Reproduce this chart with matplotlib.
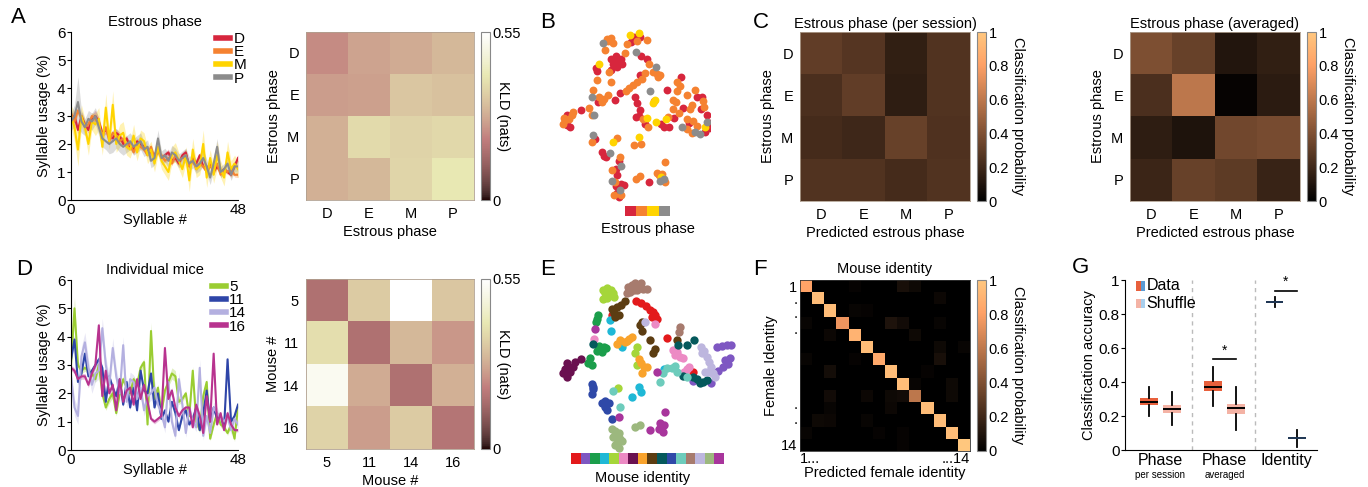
import numpy as np
import matplotlib
matplotlib.use('Agg')
import matplotlib.pyplot as plt
from matplotlib.colors import ListedColormap
from matplotlib.patches import Rectangle

plt.rcParams['font.family'] = ['Liberation Sans', 'DejaVu Sans']
plt.rcParams['font.size'] = 10

W, H = 1368, 487

# ================= DATA =================
syllables = np.arange(49)
phase_labels = ['D', 'E', 'M', 'P']
phase_colors = ['#d7263d', '#f58231', '#ffd400', '#8c8c8c']

usage_D = [2.9, 3.0, 2.5, 3.0, 2.7, 2.5, 2.9, 3.0, 2.8, 2.4, 2.5, 2.3, 2.2, 2.4, 2.3, 2.0, 2.2, 1.9, 1.8, 2.1,
           2.0, 1.9, 1.8, 1.7, 1.6, 1.8, 1.5, 1.6, 1.7, 1.4, 1.5, 1.3, 1.6, 1.7, 1.2, 1.5, 1.3, 1.6, 1.2, 1.1,
           1.3, 1.0, 1.2, 1.0, 1.1, 1.0, 0.9, 1.2, 1.5]
usage_E = [3.1, 2.8, 3.2, 2.9, 2.6, 2.7, 3.0, 2.9, 2.7, 2.3, 2.6, 2.1, 2.4, 2.3, 2.1, 2.2, 1.9, 2.0, 1.7, 2.0,
           1.9, 1.8, 1.6, 1.9, 1.5, 1.7, 1.6, 1.4, 1.5, 1.3, 1.6, 1.4, 1.5, 1.5, 1.2, 1.4, 1.1, 1.3, 1.2, 1.0,
           1.2, 1.1, 1.3, 0.9, 1.1, 1.0, 1.1, 0.9, 0.9]
usage_M = [3.0, 2.6, 1.8, 3.0, 2.6, 2.0, 2.8, 2.7, 2.9, 1.9, 3.3, 2.1, 3.4, 2.0, 2.3, 2.4, 1.9, 1.8, 2.3, 1.7,
           2.2, 2.1, 1.6, 1.8, 1.3, 1.9, 1.4, 1.2, 1.0, 1.6, 1.7, 1.4, 1.1, 1.6, 0.7, 1.8, 1.1, 1.2, 2.0, 0.8,
           1.5, 0.9, 1.6, 1.1, 0.8, 1.7, 1.1, 1.3, 1.1]
usage_P = [2.8, 3.0, 3.5, 2.8, 2.6, 2.9, 2.8, 3.0, 2.6, 2.2, 2.1, 2.0, 2.1, 2.2, 2.0, 1.9, 2.0, 2.1, 1.9, 2.0,
           2.1, 1.8, 1.9, 1.4, 1.5, 2.2, 1.5, 1.6, 1.4, 1.7, 1.6, 1.4, 1.5, 1.6, 1.3, 1.4, 1.2, 1.3, 1.5, 1.2,
           0.8, 1.3, 1.9, 1.0, 1.1, 1.3, 0.9, 1.2, 1.2]
sem_D = [0.15, 0.2, 0.15, 0.15, 0.12, 0.12, 0.15, 0.2, 0.15, 0.12, 0.15, 0.12, 0.12, 0.15, 0.12, 0.12, 0.12, 0.1,
         0.1, 0.12, 0.1, 0.1, 0.1, 0.12, 0.1, 0.12, 0.1, 0.1, 0.12, 0.1, 0.1, 0.1, 0.1, 0.12, 0.1, 0.1, 0.1, 0.1,
         0.1, 0.1, 0.1, 0.08, 0.1, 0.08, 0.08, 0.08, 0.08, 0.1, 0.12]
sem_E = [0.12, 0.12, 0.15, 0.12, 0.1, 0.1, 0.12, 0.12, 0.12, 0.1, 0.12, 0.1, 0.1, 0.1, 0.1, 0.1, 0.1, 0.1, 0.08,
         0.1, 0.1, 0.08, 0.08, 0.1, 0.08, 0.1, 0.08, 0.08, 0.08, 0.08, 0.1, 0.08, 0.08, 0.08, 0.08, 0.08, 0.08,
         0.08, 0.08, 0.08, 0.08, 0.08, 0.08, 0.08, 0.08, 0.08, 0.08, 0.08, 0.1]
sem_M = [0.4, 0.5, 0.6, 0.4, 0.3, 0.4, 0.3, 0.4, 0.4, 0.3, 0.5, 0.3, 0.5, 0.3, 0.4, 0.4, 0.3, 0.3, 0.4, 0.3,
         0.3, 0.3, 0.3, 0.3, 0.3, 0.3, 0.3, 0.3, 0.3, 0.3, 0.35, 0.3, 0.3, 0.3, 0.4, 0.4, 0.3, 0.3, 0.5, 0.35,
         0.3, 0.3, 0.5, 0.3, 0.3, 0.4, 0.3, 0.3, 0.3]
sem_P = [0.3, 0.4, 0.9, 0.4, 0.3, 0.3, 0.3, 0.3, 0.3, 0.3, 0.3, 0.35, 0.4, 0.35, 0.3, 0.3, 0.3, 0.3, 0.3, 0.3,
         0.3, 0.25, 0.25, 0.25, 0.25, 0.3, 0.25, 0.25, 0.25, 0.25, 0.25, 0.25, 0.25, 0.25, 0.25, 0.25, 0.25,
         0.25, 0.3, 0.25, 0.25, 0.25, 0.3, 0.2, 0.2, 0.2, 0.2, 0.2, 0.2]

mouse_labels = ['5', '11', '14', '16']
mouse_colors = ['#9acd32', '#2e45a8', '#b4b0e0', '#b8338f']
usage_m5 = [3.0, 5.0, 3.0, 2.8, 2.9, 2.8, 2.7, 2.5, 3.0, 2.0, 1.5, 1.8, 2.0, 1.3, 2.0, 2.5, 2.2, 2.0, 2.5, 2.3,
            2.9, 3.1, 0.9, 4.2, 1.8, 2.2, 1.3, 2.1, 2.4, 2.7, 2.6, 1.7, 1.8, 2.0, 1.2, 2.8, 1.0, 0.7, 1.9, 2.4,
            0.4, 0.9, 1.3, 0.9, 0.8, 0.6, 0.9, 0.4, 1.5]
usage_m11 = [3.2, 3.9, 2.4, 2.7, 3.4, 2.6, 2.8, 3.0, 3.2, 2.9, 1.7, 2.6, 2.2, 1.9, 2.5, 1.6, 2.4, 1.5, 2.2, 1.4,
             2.8, 2.1, 2.0, 2.7, 1.5, 2.0, 1.1, 1.4, 1.0, 1.7, 1.3, 0.7, 1.2, 1.4, 0.9, 1.1, 1.5, 0.7, 1.3, 2.1,
             1.0, 1.5, 1.1, 1.2, 0.8, 3.2, 1.0, 1.2, 1.6]
usage_m14 = [2.6, 1.5, 1.2, 3.3, 3.8, 2.9, 2.3, 2.7, 2.8, 4.3, 3.0, 2.3, 3.6, 2.6, 2.0, 3.7, 1.7, 2.5, 2.4, 1.8,
             2.2, 1.4, 1.9, 2.0, 2.2, 1.6, 1.3, 0.8, 2.4, 1.0, 0.5, 2.5, 1.6, 0.6, 1.5, 1.0, 0.8, 2.9, 0.5, 1.2,
             0.6, 1.5, 1.3, 1.1, 1.0, 1.2, 0.7, 1.1, 0.9]
usage_m16 = [2.9, 2.8, 2.5, 2.6, 2.6, 2.3, 2.7, 3.0, 4.4, 1.9, 2.8, 2.0, 2.3, 1.4, 2.5, 1.7, 2.1, 2.2, 1.6, 2.5,
             1.8, 2.3, 1.7, 1.1, 1.0, 1.1, 1.2, 3.6, 1.8, 2.1, 1.5, 1.2, 1.4, 1.5, 1.5, 0.8, 1.6, 1.2, 0.6, 1.9,
             1.0, 3.4, 0.9, 1.3, 0.7, 1.3, 0.9, 0.7, 0.7]
sem_m5 = [0.15, 0.4, 0.15, 0.12, 0.12, 0.12, 0.12, 0.12, 0.12, 0.1, 0.1, 0.15, 0.15, 0.1, 0.1, 0.12, 0.1, 0.1,
          0.12, 0.1, 0.15, 0.12, 0.1, 0.3, 0.1, 0.12, 0.1, 0.12, 0.15, 0.2, 0.2, 0.1, 0.1, 0.1, 0.1, 0.15, 0.1,
          0.1, 0.1, 0.12, 0.08, 0.1, 0.1, 0.1, 0.1, 0.08, 0.1, 0.1, 0.2]
sem_m11 = [0.12, 0.15, 0.1, 0.1, 0.12, 0.1, 0.1, 0.1, 0.12, 0.1, 0.08, 0.1, 0.1, 0.08, 0.1, 0.08, 0.1, 0.08,
           0.1, 0.08, 0.1, 0.1, 0.08, 0.1, 0.08, 0.08, 0.08, 0.08, 0.06, 0.08, 0.06, 0.06, 0.06, 0.08, 0.06,
           0.06, 0.08, 0.06, 0.06, 0.1, 0.06, 0.08, 0.06, 0.06, 0.06, 0.12, 0.06, 0.06, 0.08]
sem_m14 = [0.3, 0.3, 0.3, 0.35, 0.35, 0.3, 0.3, 0.3, 0.3, 0.35, 0.3, 0.3, 0.35, 0.3, 0.3, 0.3, 0.25, 0.25, 0.25,
           0.25, 0.25, 0.2, 0.25, 0.25, 0.25, 0.2, 0.2, 0.2, 0.25, 0.2, 0.15, 0.25, 0.2, 0.15, 0.2, 0.15, 0.15,
           0.3, 0.15, 0.2, 0.15, 0.2, 0.2, 0.15, 0.15, 0.2, 0.15, 0.15, 0.15]
sem_m16 = [0.1, 0.1, 0.1, 0.1, 0.1, 0.1, 0.1, 0.1, 0.15, 0.1, 0.1, 0.1, 0.1, 0.08, 0.1, 0.08, 0.1, 0.1, 0.08,
           0.1, 0.08, 0.1, 0.08, 0.08, 0.08, 0.08, 0.08, 0.12, 0.1, 0.1, 0.08, 0.08, 0.08, 0.08, 0.08, 0.06,
           0.08, 0.08, 0.06, 0.1, 0.06, 0.12, 0.06, 0.08, 0.06, 0.08, 0.06, 0.06, 0.06]

# KL divergence matrices (nats)
kld_phase = [[0.22, 0.26, 0.275, 0.30],
             [0.25, 0.255, 0.33, 0.32],
             [0.285, 0.375, 0.36, 0.37],
             [0.285, 0.30, 0.365, 0.41]]
kld_mouse = [[0.165, 0.34, 0.55, 0.33],
             [0.385, 0.165, 0.30, 0.24],
             [0.52, 0.275, 0.165, 0.285],
             [0.36, 0.25, 0.34, 0.175]]

# classification confusion matrices
conf_session = [[0.31, 0.27, 0.16, 0.26],
                [0.24, 0.31, 0.15, 0.26],
                [0.22, 0.20, 0.33, 0.25],
                [0.26, 0.26, 0.22, 0.26]]
conf_avg = [[0.40, 0.33, 0.11, 0.16],
            [0.24, 0.60, 0.02, 0.14],
            [0.15, 0.10, 0.36, 0.38],
            [0.19, 0.33, 0.30, 0.18]]
conf_identity = [
    [0.82, 0, 0, 0, 0.02, 0, 0, 0, 0.08, 0.05, 0, 0, 0, 0],
    [0, 0.95, 0, 0, 0, 0, 0, 0, 0, 0, 0, 0.04, 0, 0],
    [0, 0, 0.95, 0, 0.03, 0.02, 0, 0, 0, 0, 0, 0, 0, 0],
    [0.03, 0, 0, 0.75, 0, 0, 0, 0.10, 0.06, 0, 0, 0.03, 0, 0],
    [0, 0, 0.04, 0, 0.90, 0, 0, 0, 0, 0.05, 0, 0, 0, 0],
    [0, 0, 0, 0, 0, 0.95, 0, 0, 0, 0, 0, 0.05, 0, 0.03],
    [0.03, 0, 0, 0, 0.02, 0, 0.85, 0, 0, 0, 0, 0.08, 0, 0],
    [0, 0, 0.07, 0, 0, 0, 0, 0.95, 0, 0, 0.02, 0, 0, 0],
    [0, 0, 0, 0, 0, 0, 0, 0, 0.95, 0.03, 0, 0, 0.05, 0],
    [0, 0, 0.06, 0, 0, 0.04, 0, 0.05, 0.06, 0.60, 0, 0, 0.05, 0],
    [0, 0, 0.03, 0, 0, 0, 0, 0.04, 0, 0, 0.95, 0, 0, 0],
    [0, 0.05, 0.04, 0, 0, 0.03, 0, 0, 0, 0, 0, 0.95, 0, 0],
    [0.03, 0, 0, 0, 0, 0, 0.02, 0, 0.02, 0, 0, 0, 0.95, 0],
    [0, 0, 0, 0, 0, 0, 0, 0, 0.02, 0, 0, 0, 0, 1.0]]

# t-SNE embedding points (estrous phase panel), grouped by phase
tsne_phase_D = [(282, 112), (300, 110), (272, 125), (302, 168), (320, 178), (213, 176), (225, 180), (236, 184),
                (220, 192), (242, 176), (232, 200), (245, 193), (212, 210), (228, 168), (167, 205), (170, 213),
                (174, 307), (226, 300), (240, 278), (300, 226), (285, 290), (292, 310), (300, 330), (296, 348),
                (288, 352), (316, 372), (362, 372), (372, 380), (386, 380), (402, 355), (380, 270), (422, 232),
                (472, 290), (485, 290), (482, 326), (430, 325), (446, 368), (500, 346), (506, 385), (496, 395),
                (510, 370), (122, 330), (82, 346), (82, 376), (90, 382), (165, 418), (186, 455), (192, 467),
                (198, 472), (236, 482), (227, 508), (232, 526), (242, 552), (252, 556), (228, 558), (232, 580),
                (236, 592), (326, 545)]
tsne_phase_E = [(200, 118), (212, 115), (218, 128), (196, 150), (205, 122), (290, 122), (262, 132), (322, 120),
                (255, 158), (327, 192), (340, 215), (355, 232), (350, 222), (360, 225), (207, 215), (170, 240),
                (214, 245), (160, 270), (178, 290), (192, 296), (203, 285), (186, 305), (257, 272), (267, 264),
                (278, 256), (292, 246), (306, 236), (316, 220), (310, 358), (323, 382), (342, 304), (383, 352),
                (410, 245), (420, 258), (412, 272), (466, 270), (440, 285), (490, 302), (492, 320), (456, 316),
                (450, 326), (400, 300), (407, 305), (400, 328), (416, 340), (440, 357), (460, 362), (455, 400),
                (440, 386), (470, 378), (147, 325), (156, 345), (100, 335), (96, 346), (76, 360), (70, 372),
                (86, 356), (72, 355), (157, 425), (232, 415), (302, 432), (282, 436), (240, 470), (215, 510),
                (226, 546), (243, 585), (222, 585), (376, 486), (356, 525), (366, 522), (376, 546), (350, 520),
                (300, 527), (287, 536)]
tsne_phase_M = [(270, 105), (296, 100), (176, 193), (322, 354), (346, 300), (340, 310), (348, 365), (378, 358),
                (495, 380), (218, 425), (296, 410), (362, 530)]
tsne_phase_P = [(190, 128), (287, 156), (347, 200), (155, 290), (330, 274), (500, 366), (480, 402), (466, 396),
                (426, 382), (162, 345), (160, 405), (210, 460), (242, 497), (215, 542), (240, 570), (372, 536),
                (360, 542)]

# t-SNE embedding points (mouse identity panel), grouped by mouse
identity_colors = ['#e31a1c', '#7e57c2', '#1b9e4b', '#1fb8d6', '#a5d63a', '#ec8ac4', '#6a1150', '#f9a32c',
                   '#5c3d12', '#05595c', '#2f49a8', '#6dccbc', '#a77b6e', '#bdb6de', '#9cb87e', '#a8359c']
tsne_mouse = [
    [(288, 183), (304, 190), (318, 198), (330, 210), (340, 216), (346, 226), (352, 236), (335, 232), (382, 295),
     (458, 395), (215, 225)],
    [(532, 320), (460, 422), (512, 428), (545, 318), (560, 316), (572, 316), (555, 360), (570, 355), (565, 372),
     (550, 382), (535, 392), (520, 398)],
    [(175, 225), (170, 236), (167, 246), (192, 320), (180, 326), (172, 332), (186, 336), (198, 324), (150, 355),
     (144, 370), (157, 376), (178, 318)],
    [(210, 240), (214, 272), (246, 320), (276, 470), (298, 440), (302, 456), (372, 388)],
    [(190, 150), (200, 145), (212, 150), (195, 160), (206, 165), (218, 160), (222, 172), (190, 176), (200, 175),
     (290, 322), (286, 340), (292, 376), (234, 444)],
    [(162, 298), (346, 252), (400, 330), (410, 336), (404, 346), (420, 350), (440, 386), (432, 396), (446, 380),
     (428, 354)],
    [(80, 370), (74, 386), (70, 400), (80, 410), (90, 395), (100, 382), (122, 356), (106, 366), (86, 380),
     (78, 398)],
    [(240, 300), (256, 306), (266, 296), (276, 290), (230, 312), (296, 356), (302, 370), (312, 380), (322, 382),
     (306, 400), (262, 302)],
    [(256, 183), (242, 195), (230, 200), (216, 208), (222, 220), (236, 224), (226, 232), (300, 255), (306, 272),
     (330, 300), (346, 328), (340, 338), (412, 300), (305, 245)],
    [(158, 312), (414, 316), (440, 316), (462, 300), (430, 408), (460, 412), (480, 430), (490, 425), (502, 420),
     (470, 418)],
    [(155, 432), (158, 448), (155, 462), (186, 488), (196, 484), (206, 490), (196, 500), (202, 510), (216, 536),
     (160, 440)],
    [(380, 384), (370, 400), (360, 425), (396, 384), (404, 378), (220, 452), (240, 500), (410, 396), (440, 410)],
    [(265, 140), (276, 134), (286, 130), (297, 136), (302, 128), (282, 150), (270, 155), (291, 150), (310, 146),
     (322, 148), (262, 160), (420, 262), (416, 276)],
    [(316, 246), (482, 322), (492, 332), (500, 350), (506, 366), (512, 382), (496, 396), (520, 400), (526, 410),
     (486, 340), (505, 395)],
    [(216, 568), (226, 574), (236, 580), (220, 590), (240, 596), (230, 610), (246, 602), (226, 616), (286, 562),
     (300, 556), (236, 625)],
    [(166, 266), (350, 395), (236, 530), (376, 515), (360, 550), (366, 560), (356, 568), (370, 576), (330, 570),
     (372, 555)],
]

# classification accuracy box statistics
acc_groups = ['Phase', 'Phase', 'Identity']
acc_sublabels = ['per session', 'averaged', '']
acc_med = [0.285, 0.24, 0.37, 0.245, 0.87, 0.07]
acc_q1 = [0.265, 0.22, 0.35, 0.21, 0.865, 0.065]
acc_q3 = [0.305, 0.265, 0.405, 0.27, 0.875, 0.075]
acc_lo = [0.20, 0.145, 0.26, 0.12, 0.84, 0.02]
acc_hi = [0.37, 0.34, 0.49, 0.37, 0.90, 0.12]
acc_colors = ['#e8603c', '#f4b3a5', '#e8603c', '#f4b3a5', '#5b9bd5', '#a8cfee']
sig_levels = [None, 0.533, 0.937]

# ================= FIGURE =================
fig = plt.figure(figsize=(W / 100, H / 100), dpi=100)


def axpx(l, t, r, b):
    return fig.add_axes([l / W, 1 - b / H, (r - l) / W, (b - t) / H])


def line_panel(ax, series, sems, colors, labels, title):
    for y, s, c, lab in zip(series, sems, colors, labels):
        y = np.array(y)
        s = np.array(s)
        ax.fill_between(syllables, y - s, y + s, color=c, alpha=0.3, lw=0)
    for y, c, lab in zip(series, colors, labels):
        ax.plot(syllables, y, color=c, lw=1.5, label=lab)
    ax.set_xlim(0, 48)
    ax.set_ylim(0, 6)
    ax.set_yticks(range(7))
    ax.set_xticks([0, 48])
    ax.tick_params(axis='x', length=0, labelsize=11, pad=2)
    ax.tick_params(axis='y', length=3, labelsize=11, pad=1)
    for sp in ['top', 'right']:
        ax.spines[sp].set_visible(False)
    ax.set_xlabel('Syllable #', fontsize=10.5)
    ax.xaxis.set_label_coords(0.5, -0.075)
    ax.set_ylabel('Syllable usage (%)', fontsize=10.5, labelpad=4)
    ax.set_title(title, fontsize=10.5, pad=4)
    leg = ax.legend(loc='upper right', bbox_to_anchor=(1.05, 1.0), frameon=False, fontsize=11,
                    handlelength=0.9, handletextpad=0.25, labelspacing=-0.05, borderaxespad=0, borderpad=0)
    for h in leg.get_lines():
        h.set_linewidth(4)


def heat_panel(ax, cax, mat, cmap, vmax, xl, yl, cticks, ctlabels):
    im = ax.imshow(np.array(mat), cmap=cmap, vmin=0, vmax=vmax, aspect='auto', interpolation='nearest')
    ax.set_xticks(range(len(xl)))
    ax.set_xticklabels(xl)
    ax.set_yticks(range(len(yl)))
    ax.set_yticklabels(yl)
    ax.tick_params(length=0, labelsize=10.5, pad=5)
    for sp in ax.spines.values():
        sp.set_linewidth(0.6)
        sp.set_color('#b0a090')
    cb = fig.colorbar(im, cax=cax)
    cb.set_ticks(cticks)
    cb.set_ticklabels(ctlabels)
    cb.outline.set_edgecolor('#888888')
    cb.outline.set_linewidth(0.8)
    cax.tick_params(length=0, labelsize=10.5, pad=2)
    return im


# ---- A: line plot ----
axA = axpx(71, 32, 238, 200)
line_panel(axA, [usage_D, usage_E, usage_M, usage_P], [sem_D, sem_E, sem_M, sem_P], phase_colors,
           phase_labels, 'Estrous phase')

# ---- A: KLD heatmap ----
axAh = axpx(306, 32, 474, 200)
caxA = axpx(481, 32, 490, 200)
heat_panel(axAh, caxA, kld_phase, 'pink', 0.55, phase_labels, phase_labels, [0, 0.55], ['0', '0.55'])
axAh.set_xlabel('Estrous phase', fontsize=10.5, labelpad=3)
axAh.set_ylabel('Estrous phase', fontsize=10.5, labelpad=4)
fig.text(503 / W, 1 - 116 / H, 'KLD (nats)', rotation=270, ha='center', va='center', fontsize=10.5)

# ---- D: line plot ----
axD = axpx(71, 280, 238, 450)
line_panel(axD, [usage_m5, usage_m11, usage_m14, usage_m16], [sem_m5, sem_m11, sem_m14, sem_m16],
           mouse_colors, mouse_labels, 'Individual mice')

# ---- D: KLD heatmap ----
axDh = axpx(306, 279, 474, 449)
caxD = axpx(481, 279, 490, 449)
heat_panel(axDh, caxD, kld_mouse, 'pink', 0.55, mouse_labels, mouse_labels, [0, 0.55], ['0', '0.55'])
axDh.set_xlabel('Mouse #', fontsize=10.5, labelpad=3)
axDh.set_ylabel('Mouse #', fontsize=10.5, labelpad=2)
fig.text(503 / W, 1 - 364 / H, 'KLD (nats)', rotation=270, ha='center', va='center', fontsize=10.5)

# ---- B: t-SNE phase ----
axB = axpx(540, 0, 710, 240)
for pts, c in zip([tsne_phase_D, tsne_phase_E, tsne_phase_M, tsne_phase_P], phase_colors):
    arr = np.array(pts)
    axB.scatter(arr[:, 0], arr[:, 1], s=32, color=c, lw=0)
axB.set_xlim(0, 510)
axB.set_ylim(720, 0)
axB.axis('off')
axBs = axpx(625, 206, 670, 216)
axBs.imshow(np.arange(len(phase_colors))[None, :], cmap=ListedColormap(phase_colors), aspect='auto')
axBs.axis('off')
fig.text(648 / W, 1 - 229 / H, 'Estrous phase', ha='center', va='center', fontsize=10.5)

# ---- E: t-SNE identity ----
axE = axpx(540, 240, 735, 487)
for pts, c in zip(tsne_mouse, identity_colors):
    arr = np.array(pts)
    axE.scatter(arr[:, 0], arr[:, 1], s=36, color=c, lw=0)
axE.set_xlim(0, 585)
axE.set_ylim(741, 0)
axE.axis('off')
axEs = axpx(571, 453, 724, 464)
axEs.imshow(np.arange(len(identity_colors))[None, :], cmap=ListedColormap(identity_colors), aspect='auto')
axEs.axis('off')
fig.text(643 / W, 1 - 478 / H, 'Mouse identity', ha='center', va='center', fontsize=10.5)

# ---- C: confusion matrices ----
cticks = [0, 0.2, 0.4, 0.6, 0.8, 1]
ctl = ['0', '0.2', '0.4', '0.6', '0.8', '1']
for l, mat, ttl in [(800, conf_session, 'Estrous phase (per session)'), (1130, conf_avg, 'Estrous phase (averaged)')]:
    ax = axpx(l, 32, l + 170, 201)
    cax = axpx(l + 177, 32, l + 186, 201)
    heat_panel(ax, cax, mat, 'copper', 1.0, phase_labels, phase_labels, cticks, ctl)
    ax.set_title(ttl, fontsize=10.5, pad=3)
    ax.set_xlabel('Predicted estrous phase', fontsize=10.5, labelpad=3)
    ax.set_ylabel('Estrous phase', fontsize=10.5, labelpad=4)
    fig.text((l + 218) / W, 1 - 116 / H, 'Classification probability', rotation=270, ha='center',
             va='center', fontsize=10.5)

# ---- F: identity confusion ----
axF = axpx(800, 280, 970, 451)
caxF = axpx(977, 280, 986, 451)
n_id = len(conf_identity)
heat_panel(axF, caxF, conf_identity, 'copper', 1.0, [''] * n_id, [''] * n_id, cticks, ctl)
for sp in axF.spines.values():
    sp.set_color('#333333')
axF.set_yticks([0, 1, 2.2, 3.5, 9.6, 10.8, 13])
axF.set_yticklabels(['1', '.', '.', '.', '.', '.', '14'])
axF.tick_params(axis='y', pad=2)
axF.set_xticks([-0.5, n_id - 0.5])
xtl = axF.set_xticklabels(['1...', '...14'])
xtl[0].set_ha('left')
xtl[1].set_ha('right')
axF.tick_params(axis='x', pad=1)
axF.set_title('Mouse identity', fontsize=10.5, pad=5)
axF.set_xlabel('Predicted female identity', fontsize=10.5, labelpad=0)
axF.set_ylabel('Female Identity', fontsize=10.5, labelpad=2)
fig.text(1018 / W, 1 - 365 / H, 'Classification probability', rotation=270, ha='center', va='center',
         fontsize=10.5)

# ---- G: classification accuracy ----
axG = axpx(1125, 280, 1317, 450)
positions = [0, 1, 2.82, 3.82, 5.53, 6.53]
stats = [dict(med=m, q1=a, q3=b, whislo=lo, whishi=hi, fliers=[])
         for m, a, b, lo, hi in zip(acc_med, acc_q1, acc_q3, acc_lo, acc_hi)]
bp = axG.bxp(stats, positions=positions, widths=0.78, patch_artist=True, showcaps=False,
             medianprops=dict(color='k', lw=1.4), whiskerprops=dict(color='k', lw=1.3),
             boxprops=dict(lw=0))
for patch, c in zip(bp['boxes'], acc_colors):
    patch.set_facecolor(c)
    patch.set_edgecolor(c)
for med, c in zip(bp['medians'][4:], acc_colors[4:]):
    med.set_color('#1f3552')
axG.set_xlim(-1.06, 7.4)
axG.set_ylim(0, 1.0)
axG.set_yticks([0, 0.2, 0.4, 0.6, 0.8, 1.0])
axG.set_yticklabels(['0', '0.2', '0.4', '0.6', '0.8', '1'])
axG.tick_params(axis='y', length=3, labelsize=11, pad=1)
for sp in ['top', 'right']:
    axG.spines[sp].set_visible(False)
centers = [(positions[2 * i] + positions[2 * i + 1]) / 2 for i in range(3)]
axG.set_xticks(centers)
axG.set_xticklabels(acc_groups, fontsize=11.5)
axG.tick_params(axis='x', length=0, pad=2)
for cx, sub in zip(centers, acc_sublabels):
    if sub:
        axG.text(cx, -0.12, sub, transform=axG.get_xaxis_transform(), ha='center', va='top', fontsize=7)
for i in range(2):
    sep = (positions[2 * i + 1] + positions[2 * i + 2]) / 2
    axG.axvline(sep, color='#bbbbbb', lw=1, ls=(0, (3, 3)), ymax=1.0)
for i, lvl in enumerate(sig_levels):
    if lvl is None:
        continue
    x0, x1 = positions[2 * i], positions[2 * i + 1]
    axG.plot([x0, x1], [lvl, lvl], color='k', lw=1.2, clip_on=False)
    axG.text((x0 + x1) / 2, lvl + 0.01, '*', ha='center', va='bottom', fontsize=10)
axG.set_ylabel('Classification accuracy', fontsize=10.5, labelpad=2)
# legend
for yf, cl, lab in [(0.965, ('#e8603c', '#5b9bd5'), 'Data'), (0.862, ('#f4b3a5', '#a8cfee'), 'Shuffle')]:
    axG.add_patch(Rectangle((0.057, yf - 0.027), 0.024, 0.054, transform=axG.transAxes, color=cl[0], lw=0,
                            clip_on=False))
    axG.add_patch(Rectangle((0.081, yf - 0.027), 0.022, 0.054, transform=axG.transAxes, color=cl[1], lw=0,
                            clip_on=False))
    axG.text(0.113, yf, lab, transform=axG.transAxes, ha='left', va='center', fontsize=11.5)

# ---- panel letters ----
for letter, x, y in [('A', 11, 23), ('B', 540, 28), ('C', 753, 28), ('D', 16, 275), ('E', 540, 275),
                     ('F', 753, 275), ('G', 1072, 273)]:
    fig.text(x / W, 1 - y / H, letter, fontsize=16, ha='left', va='baseline')

fig.savefig('out.png', dpi=100)
